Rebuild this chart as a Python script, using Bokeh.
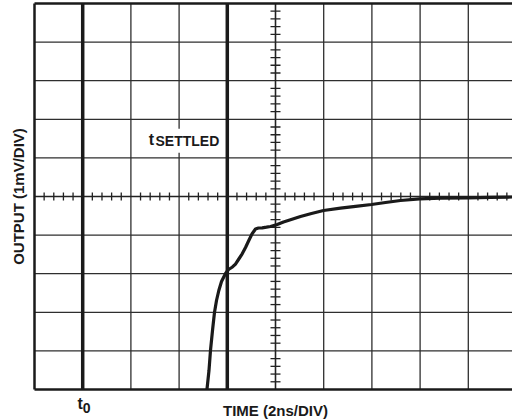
import numpy as np
from bokeh.plotting import figure
from bokeh.models import Label, ColumnDataSource
from bokeh.embed import file_html
from bokeh.resources import INLINE

# ---- data (in divisions: x = time div, y = output div) ----
TIME_DIV = [3.578, 3.620, 3.651, 3.693, 3.734, 3.776, 3.824, 3.880, 3.963, 4.025,
            4.108, 4.170, 4.232, 4.309, 4.378, 4.446, 4.512, 4.585, 4.647, 4.724,
            4.813, 4.896, 5.035, 5.166, 5.311, 5.519, 5.747, 5.996, 6.349, 6.660,
            6.992, 7.282, 7.593, 7.988, 8.423, 9.004, 9.461, 9.917]
OUTPUT_DIV = [0.000, 0.492, 1.010, 1.528, 1.995, 2.306, 2.565, 2.798, 3.005, 3.109,
              3.174, 3.251, 3.368, 3.516, 3.679, 3.860, 4.028, 4.158, 4.184, 4.189,
              4.205, 4.223, 4.275, 4.339, 4.396, 4.482, 4.560, 4.637, 4.697, 4.746,
              4.793, 4.845, 4.896, 4.940, 4.956, 4.966, 4.979, 4.987]
T0 = 1.0
T_SETTLED = 4.0
CENTER = 5.0
N_DIV = 10
MAJOR = [1, 2, 3, 4, 6, 7, 8, 9]
MINOR = [i / 5 for i in range(1, 50) if i % 5 != 0]
X_LABEL = "TIME (2ns/DIV)"
Y_LABEL = "OUTPUT (1mV/DIV)"

FONT = "Liberation Sans"
INK = "#1a1a1a"
GRID = "#2e2e2e"

p = figure(width=512, height=420, x_range=(-0.7054, 9.917), y_range=(-0.8031, 10.0777),
           output_backend="svg", toolbar_location=None,
           x_axis_location=None, y_axis_location=None,
           min_border_left=0, min_border_right=0, min_border_top=0,
           min_border_bottom=0)
p.outline_line_color = None
p.xgrid.visible = False
p.ygrid.visible = False
p.background_fill_color = "white"
p.border_fill_color = "white"

# graticule grid lines
p.segment(x0=MAJOR, y0=[0] * len(MAJOR), x1=MAJOR, y1=[N_DIV] * len(MAJOR),
          line_color=GRID, line_width=1.3)
p.segment(x0=[0] * len(MAJOR), y0=MAJOR, x1=[N_DIV] * len(MAJOR), y1=MAJOR,
          line_color=GRID, line_width=1.3)

# center graticule lines
p.segment(x0=[CENTER, 0], y0=[0, CENTER], x1=[CENTER, N_DIV], y1=[N_DIV, CENTER],
          line_color="#222", line_width=1.6)

# minor ticks along the center lines
p.scatter(x=MINOR, y=[CENTER] * len(MINOR), marker="dash", size=8,
          angle=np.pi / 2, line_color="#222", line_width=1.3)
p.scatter(x=[CENTER] * len(MINOR), y=MINOR, marker="dash", size=10,
          angle=0, line_color="#222", line_width=1.3)

# frame borders: left, bottom, top
p.segment(x0=[0, 0, 0], y0=[0, 0, N_DIV], x1=[0, N_DIV, N_DIV], y1=[N_DIV, 0, N_DIV],
          line_color=INK, line_width=2.5)

# thick markers at t0 and t_settled
p.segment(x0=[T0, T_SETTLED], y0=[0, 0], x1=[T0, T_SETTLED], y1=[N_DIV, N_DIV],
          line_color=INK, line_width=3.5)

# waveform
src = ColumnDataSource(dict(t=TIME_DIV, v=OUTPUT_DIV))
p.line("t", "v", source=src, line_color=INK, line_width=3.2, line_join="round")

# labels
p.add_layout(Label(x=2.427, y=6.446, text="SETTLED", text_font=FONT, text_font_size="14px",
                   text_font_style="bold", text_color=INK, text_baseline="alphabetic",
                   background_fill_color="white", padding=4))
p.add_layout(Label(x=2.371, y=6.469, text="t", text_font=FONT, text_font_size="16px",
                   text_font_style="bold", text_color=INK, text_baseline="alphabetic"))

p.add_layout(Label(x=0.892, y=-0.362, text="t", text_font=FONT, text_font_size="16px",
                   text_font_style="bold", text_color=INK, text_baseline="alphabetic"))
p.add_layout(Label(x=T0, y=-0.492, text="0", text_font=FONT, text_font_size="14px",
                   text_font_style="bold", text_color=INK, text_baseline="alphabetic"))

p.add_layout(Label(x=CENTER, y=-0.544, text=X_LABEL, text_font=FONT, text_font_size="15px",
                   text_font_style="bold", text_color=INK, text_align="center",
                   text_baseline="alphabetic"))
p.add_layout(Label(x=-0.332, y=CENTER, text=Y_LABEL, text_font=FONT, text_font_size="15px",
                   text_font_style="bold", text_color=INK, text_align="center",
                   text_baseline="alphabetic", angle=np.pi / 2))

open("out.html", "w").write(file_html(p, INLINE))
